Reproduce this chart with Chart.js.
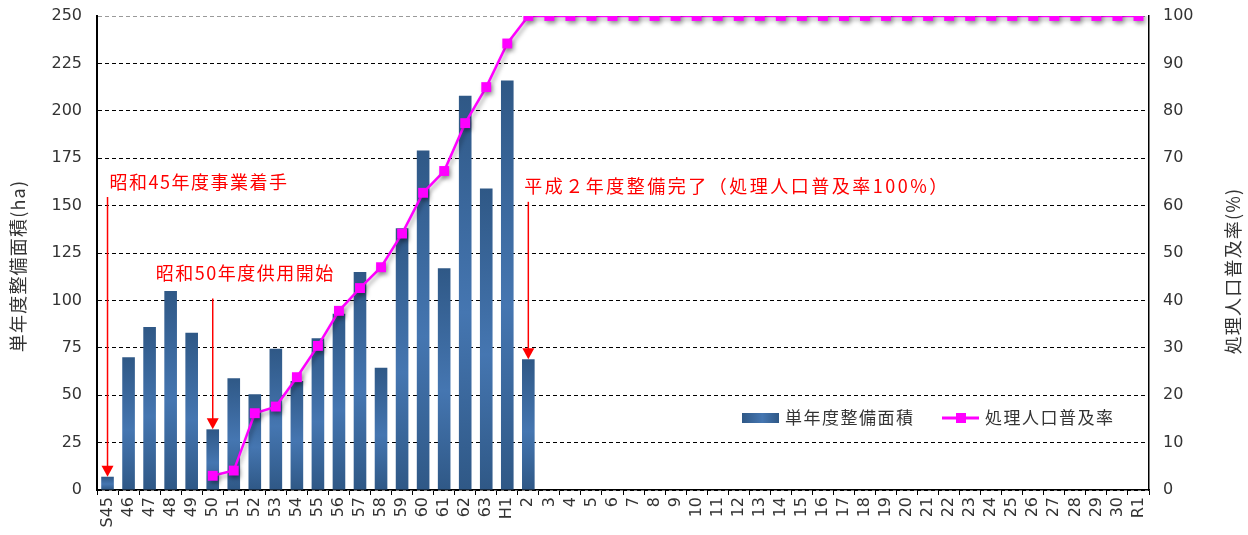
<!DOCTYPE html>
<html><head><meta charset="utf-8">
<script src="https://cdn.jsdelivr.net/npm/chart.js@4/dist/chart.umd.min.js"></script>
<style>html,body{margin:0;padding:0;background:#fff}#wrap{width:1248px;height:535px;position:relative}</style>
</head><body><div id="wrap"><canvas id="c"></canvas></div>
<script>
const categories = ['S45','46','47','48','49','50','51','52','53','54','55','56','57','58','59','60','61','62','63','H1',
  '2','3','4','5','6','7','8','9','10','11','12','13','14','15','16','17','18','19','20','21','22','23','24','25','26','27','28','29','30','R1'];
const areaValues = [7,70,86,105,83,32,59,50.5,74.5,57.5,80,93,115,64.5,138,179,117,208,159,216,
  69,null,null,null,null,null,null,null,null,null,null,null,null,null,null,null,null,null,null,null,null,null,null,null,null,null,null,null,null,null];
const rateValues = [null,null,null,null,null,3,4.1,16.2,17.6,23.8,30.4,37.8,42.6,47,54.1,62.7,67.3,77.4,85,94.2,
  100,100,100,100,100,100,100,100,100,100,100,100,100,100,100,100,100,100,100,100,100,100,100,100,100,100,100,100,100,100];
const leftTicks = {min:0, max:250, step:25};
const rightTicks = {min:0, max:100, step:10};
const seriesNames = ['単年度整備面積','処理人口普及率'];
const axisTitles = ['単年度整備面積(ha)','処理人口普及率(%)'];
const notes = [
  {text:'昭和45年度事業着手', index:0, textValue:162.5, from:154.5, to:7, dx:2, ls:1.5},
  {text:'昭和50年度供用開始', index:5, textValue:114.5, from:101, to:32, dx:-57, ls:1.5},
  {text:'平成２年度整備完了（処理人口普及率100%）', index:20, textValue:160, from:152, to:69, dx:-4, ls:2.5}
];

const JP = '"Noto Sans CJK JP","Noto Sans",sans-serif';
const NUM = '"DejaVu Sans","Liberation Sans",sans-serif';

function barGradient(ctx){
  const chart = ctx.chart;
  if(!chart.chartArea || ctx.type!=='data' || ctx.raw==null) return '#3a679f';
  const y = chart.scales.y;
  const top = y.getPixelForValue(ctx.raw), bot = y.getPixelForValue(0);
  if(!isFinite(top) || Math.abs(bot-top)<1) return '#3a679f';
  const g = chart.ctx.createLinearGradient(0, top, 0, bot);
  g.addColorStop(0,'#2f5886');
  g.addColorStop(0.55,'#4576b1');
  g.addColorStop(1,'#2f5886');
  return g;
}

function setLS(c, v){ try{ c.letterSpacing = v+'px'; }catch(e){} }

const extras = {
  id:'extras',
  beforeDatasetDraw(chart, args){
    if(args.index===1){
      const c=chart.ctx; c.save();
      c.shadowColor='rgba(0,0,0,0.35)'; c.shadowBlur=4; c.shadowOffsetX=2; c.shadowOffsetY=3;
    }
  },
  afterDatasetDraw(chart, args){ if(args.index===1) chart.ctx.restore(); },
  afterDraw(chart){
    const c = chart.ctx, ca = chart.chartArea, x = chart.scales.x, y = chart.scales.y;
    // axis titles
    [[axisTitles[0],18,266],[axisTitles[1],1233,271]].forEach(([t,tx,ty])=>{
      c.save();
      c.fillStyle='#333'; c.font='18px '+JP; c.textAlign='center'; c.textBaseline='middle';
      setLS(c,1.2);
      c.translate(tx,ty); c.rotate(-Math.PI/2); c.fillText(t,0,0);
      c.restore();
    });
    // annotations
    notes.forEach(n=>{
      const px = x.getPixelForValue(n.index);
      const y1 = y.getPixelForValue(n.from), y2 = y.getPixelForValue(n.to);
      c.save();
      c.strokeStyle='#ff0000'; c.fillStyle='#ff0000'; c.lineWidth=1.5;
      c.beginPath(); c.moveTo(px,y1); c.lineTo(px,y2-9); c.stroke();
      c.beginPath(); c.moveTo(px-6,y2-11); c.lineTo(px+6,y2-11); c.lineTo(px,y2); c.closePath(); c.fill();
      c.font='18px '+JP; c.textAlign='left'; c.textBaseline='middle';
      setLS(c,n.ls);
      c.fillText(n.text, px+n.dx, y.getPixelForValue(n.textValue));
      c.restore();
    });
    // legend
    c.save();
    const ly = 418;
    const g = c.createLinearGradient(742,0,779,0);
    g.addColorStop(0,'#2f5886'); g.addColorStop(0.55,'#4576b1'); g.addColorStop(1,'#2f5886');
    c.fillStyle=g; c.fillRect(742,ly-5,37,10);
    c.fillStyle='#333'; c.font='17px '+JP; c.textAlign='left'; c.textBaseline='middle';
    setLS(c,1.5);
    c.fillText(seriesNames[0],785,ly);
    c.strokeStyle='#ff00ff'; c.lineWidth=3;
    c.beginPath(); c.moveTo(942,ly); c.lineTo(979,ly); c.stroke();
    c.fillStyle='#ff00ff'; c.fillRect(956,ly-5,10,10);
    c.fillStyle='#333'; c.fillText(seriesNames[1],985,ly);
    c.restore();
  }
};

new Chart(document.getElementById('c'), {
  data:{
    labels: categories,
    datasets:[
      {type:'bar', label:seriesNames[0], data:areaValues, yAxisID:'y', order:1,
       backgroundColor:barGradient, borderWidth:0, categoryPercentage:1, barPercentage:0.6},
      {type:'line', label:seriesNames[1], data:rateValues, yAxisID:'y2', order:0,
       borderColor:'#ff00ff', backgroundColor:'#ff00ff', borderWidth:2.5, pointStyle:'rect',
       pointRadius:7, pointBorderWidth:0, pointBackgroundColor:'#ff00ff', spanGaps:false, tension:0}
    ]
  },
  options:{
    responsive:true, maintainAspectRatio:false, animation:false,
    layout:{padding:{top:16,left:0,right:0,bottom:0}},
    plugins:{legend:{display:false}, tooltip:{enabled:false}},
    scales:{
      x:{offset:true,
         grid:{display:true, offset:true, drawOnChartArea:false, drawTicks:true, tickLength:5, color:'#000', lineWidth:1},
         border:{color:'#000', width:1.5},
         ticks:{autoSkip:false, minRotation:90, maxRotation:90, color:'#333', font:{family:NUM, size:16}, padding:2},
         afterFit(s){ s.height=45; s.paddingLeft=0; s.paddingRight=0; s.paddingTop=0; s.paddingBottom=0; }},
      y:{position:'left', min:leftTicks.min, max:leftTicks.max,
         ticks:{stepSize:leftTicks.step, color:'#333', font:{family:NUM, size:16}, padding:15},
         grid:{color:(ctx)=> (ctx.tick && ctx.tick.value===250) ? '#9a9a9a' : '#000', lineWidth:1, drawTicks:false},
         border:{color:'#000', width:2, dash:[4,3]},
         afterFit(s){ s.width=97; s.paddingTop=0; s.paddingBottom=0; }},
      y2:{position:'right', min:rightTicks.min, max:rightTicks.max,
         ticks:{stepSize:rightTicks.step, color:'#333', font:{family:NUM, size:16}, padding:14},
         grid:{drawOnChartArea:false, drawTicks:false},
         border:{color:'#000', width:1.5},
         afterFit(s){ s.width=99; s.paddingTop=0; s.paddingBottom=0; }}
    }
  },
  plugins:[extras]
});
</script></body></html>
